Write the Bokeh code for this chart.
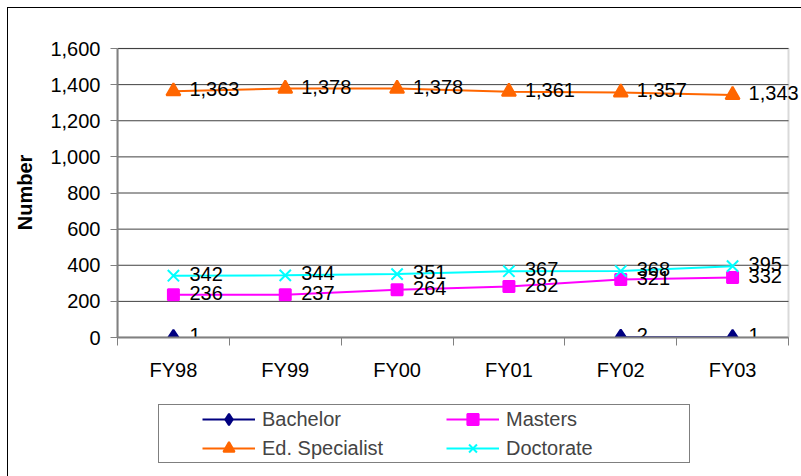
from bokeh.plotting import figure
from bokeh.layouts import column
from bokeh.models import (Range1d, FixedTicker, NumeralTickFormatter, Legend,
                          LegendItem, ColumnDataSource, BoxAnnotation)
from bokeh.embed import file_html
from bokeh.resources import INLINE
from bokeh.core.properties import value

categories = ["FY98", "FY99", "FY00", "FY01", "FY02", "FY03"]
bachelor = [1, None, None, None, 2, 1]
masters = [236, 237, 264, 282, 321, 332]
ed_specialist = [1363, 1378, 1378, 1361, 1357, 1343]
doctorate = [342, 344, 351, 367, 368, 395]
y_ticks = [0, 200, 400, 600, 800, 1000, 1200, 1400, 1600]
y_title = "Number"

series = [
    ("Bachelor", bachelor, "#000080", "diamond", 15),
    ("Masters", masters, "#FF00FF", "square", 11),
    ("Ed. Specialist", ed_specialist, "#FF6600", "triangle", 14),
    ("Doctorate", doctorate, "#00FFFF", "x", 16),
]
legend_order = ["Bachelor", "Ed. Specialist", "Masters", "Doctorate"]

FONT_NAME = "Liberation Sans"
FONT = value(FONT_NAME)
FS = "20px"
n = len(categories)
xs = [i + 0.5 for i in range(n)]
y_max = y_ticks[-1]

# frame runs to the right edge so that the last data label is not cut
p = figure(width=793, height=385, output_backend="svg", toolbar_location=None,
           x_range=Range1d(0, n * 684 / 671), y_range=Range1d(0, y_max * 290 / 289),
           min_border_left=109, min_border_top=39, min_border_right=0,
           min_border_bottom=56)

p.outline_line_color = None
p.grid.visible = False
# horizontal gridlines across the plot area
p.segment(x0=[0] * len(y_ticks), x1=[n] * len(y_ticks), y0=y_ticks, y1=y_ticks,
          line_color="#404040", line_width=1)
# plot-area border
p.add_layout(BoxAnnotation(left=0, right=n, bottom=0, top=y_max, fill_alpha=0,
                           line_color="#808080", line_width=2, level="underlay"))

p.yaxis.ticker = FixedTicker(ticks=y_ticks)
p.yaxis.bounds = (0, y_max)
p.yaxis.formatter = NumeralTickFormatter(format="0,0")
p.yaxis.axis_line_color = "#808080"
p.yaxis.axis_line_width = 2
p.yaxis.major_tick_line_color = "#808080"
p.yaxis.major_tick_out = 7
p.yaxis.major_tick_in = 0
p.yaxis.minor_tick_line_color = None
p.yaxis.major_label_text_font = FONT_NAME
p.yaxis.major_label_text_font_size = FS
p.yaxis.major_label_text_color = "black"
p.yaxis.major_label_standoff = 10
p.yaxis.axis_label = y_title
p.yaxis.axis_label_text_font = FONT_NAME
p.yaxis.axis_label_text_font_size = FS
p.yaxis.axis_label_text_font_style = "bold"
p.yaxis.axis_label_text_color = "black"
p.yaxis.axis_label_standoff = 11

p.xaxis.ticker = FixedTicker(ticks=xs, minor_ticks=list(range(n + 1)))
p.xaxis.bounds = (0, n)
p.xaxis.major_label_overrides = {x: c for x, c in zip(xs, categories)}
p.xaxis.axis_line_color = "#808080"
p.xaxis.axis_line_width = 2
p.xaxis.major_tick_line_color = None
p.xaxis.major_tick_out = 0
p.xaxis.major_tick_in = 0
p.xaxis.minor_tick_line_color = "#808080"
p.xaxis.minor_tick_out = 8
p.xaxis.minor_tick_in = 0
p.xaxis.major_label_text_font = FONT_NAME
p.xaxis.major_label_text_font_size = FS
p.xaxis.major_label_text_color = "black"
p.xaxis.major_label_standoff = 13

# legend-only figure below the chart
lg = figure(width=793, height=83, output_backend="svg", toolbar_location=None,
            x_range=Range1d(-100, -99), y_range=Range1d(-100, -99),
            x_axis_type=None, y_axis_type=None,
            min_border_left=0, min_border_right=0, min_border_top=0,
            min_border_bottom=0)
lg.outline_line_color = None
lg.grid.visible = False

items = {}
for name, vals, color, marker, size in series:
    yv = [float("nan") if v is None else v for v in vals]
    src = ColumnDataSource(dict(x=xs, y=yv))
    p.line("x", "y", source=src, line_color=color, line_width=2)
    p.scatter("x", "y", source=src, marker=marker, size=size,
              fill_color=color, line_color=color, line_width=2)
    lx = [x for x, v in zip(xs, vals) if v is not None]
    ly = [v for v in vals if v is not None]
    lt = [f"{v:,}" for v in vals if v is not None]
    lsrc = ColumnDataSource(dict(x=lx, y=ly, t=lt))
    p.text("x", "y", text="t", source=lsrc, x_offset=16, y_offset=-2,
           text_baseline="middle", text_align="left", text_font=FONT,
           text_font_size=FS, text_color="black")
    lr = lg.line("x", "y", source=src, line_color=color, line_width=2)
    sr = lg.scatter("x", "y", source=src, marker=marker, size=size,
                    fill_color=color, line_color=color, line_width=2)
    items[name] = LegendItem(label=name, renderers=[lr, sr])

legend = Legend(items=[items[k] for k in legend_order], ncols=2,
                location=(41, 13), margin=0,
                title="\u00a0", title_location="left",
                title_text_font_size="28px", title_standoff=11,
                label_text_font=FONT_NAME, label_text_font_size=FS,
                label_width=183, glyph_width=53, glyph_height=28,
                label_standoff=7, spacing=1, padding=0,
                border_line_color="black", border_line_width=1,
                background_fill_alpha=1)
lg.add_layout(legend, "center")

layout = column(p, lg, spacing=0)
layout.styles = {"border-left": "1px solid black", "border-top": "1px solid black",
                 "margin-left": "7px", "margin-top": "7px"}

open("out.html", "w").write(file_html(layout, INLINE))
